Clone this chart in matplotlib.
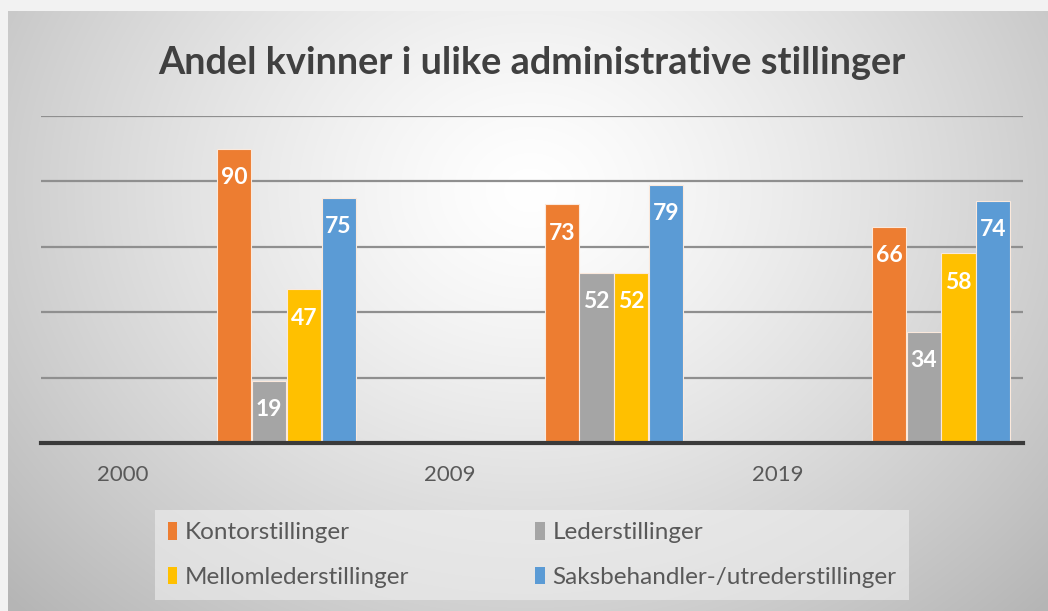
import numpy as np
import matplotlib.pyplot as plt
from matplotlib.patches import Patch

plt.rcParams['font.family'] = ['Lato', 'DejaVu Sans']

title = "Andel kvinner i ulike administrative stillinger"
years = ["2000", "2009", "2019"]
series = ["Kontorstillinger", "Lederstillinger", "Mellomlederstillinger",
          "Saksbehandler-/utrederstillinger"]
kontor = [90, 73, 66]
leder = [19, 52, 34]
mellom = [47, 52, 58]
saks = [75, 79, 74]
colors = ["#ED7D31", "#A5A5A5", "#FFC000", "#5B9BD5"]

W, H = 1048, 611
fig = plt.figure(figsize=(W / 100, H / 100), dpi=100)

# background: light frame + radial grey gradient like the Excel chart area
bg = fig.add_axes([0, 0, 1, 1], zorder=-10)
yy, xx = np.mgrid[0:H, 0:W]
d = np.sqrt(((xx - 530) / 620.0) ** 2 + ((yy - 190) / 520.0) ** 2)
g = 1.0 - 0.24 * np.clip(d, 0, 1.15) ** 1.3
img = np.dstack([g, g, g])
img[:11, :, :] = 0.95
img[:, :8, :] = 0.95
bg.imshow(img, extent=[0, W, H, 0], aspect='auto', interpolation='bilinear')
bg.set_xlim(0, W)
bg.set_ylim(H, 0)
bg.axis('off')

ax = fig.add_axes([41 / W, 1 - 443 / H, (1023 - 41) / W, (443 - 116) / H])
ax.patch.set_alpha(0)

# years sit on even slots, bar groups on the odd slots after them
label_pos = np.arange(len(years)) * 2
group_pos = label_pos + 1
w = 0.208
data = [kontor, leder, mellom, saks]
for i, (vals, c) in enumerate(zip(data, colors)):
    x = group_pos + (i - 1.5) * (w + 0.004)
    bars = ax.bar(x, vals, width=w, color=c, edgecolor='#fbe9dc', linewidth=0.8, zorder=3)
    for b, v in zip(bars, vals):
        ax.text(b.get_x() + b.get_width() / 2, v - 8.8, str(v), ha='center', va='center',
                color='white', fontsize=16.5, fontweight='bold', zorder=4)

ax.set_xlim(-0.5, 5.5)
ax.set_ylim(0, 100)
ax.set_yticks([20, 40, 60, 80, 100])
ax.yaxis.grid(True, color='#8f8f8f', linewidth=1.6, zorder=1)
ax.tick_params(axis='y', left=False, labelleft=False)
ax.set_xticks(label_pos)
ax.set_xticklabels(years, fontsize=16, color='#595959')
ax.tick_params(axis='x', length=0, pad=16)
for s in ['top', 'right', 'left']:
    ax.spines[s].set_visible(False)
ax.spines['bottom'].set_color('#3a3a3a')
ax.spines['bottom'].set_linewidth(3)
ax.spines['bottom'].set_zorder(5)

fig.text(0.507, 1 - 63 / H, title, ha='center', va='center', fontsize=27.3,
         fontweight='bold', color='#404040')

handles = [Patch(facecolor=c, edgecolor='none') for c in colors]
order = [0, 2, 1, 3]
leg = fig.legend([handles[i] for i in order], [series[i] for i in order],
                 ncol=2, loc='center', bbox_to_anchor=(532 / W, 1 - 555 / H),
                 fontsize=17.5, frameon=True, handlelength=0.4, handleheight=0.75,
                 handletextpad=0.3, columnspacing=5.2, labelspacing=0.95,
                 borderpad=0.5, borderaxespad=0)
leg.get_frame().set_facecolor('#f0f0f0')
leg.get_frame().set_alpha(0.6)
leg.get_frame().set_edgecolor('none')
leg.get_frame().set_boxstyle('square', pad=0)
for t in leg.get_texts():
    t.set_color('#595959')

fig.savefig('out.png', dpi=100)
